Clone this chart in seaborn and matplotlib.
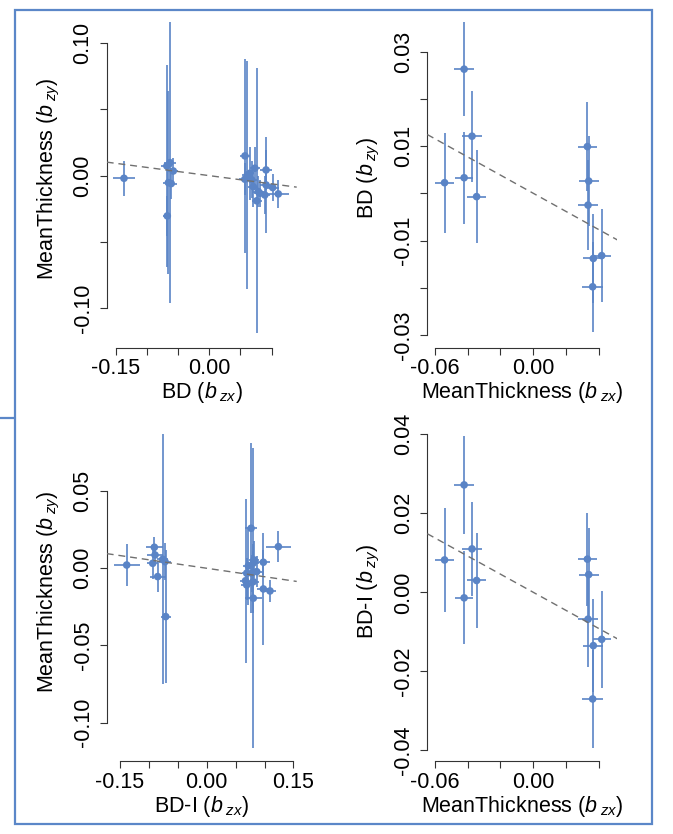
import matplotlib
matplotlib.use("Agg")
import matplotlib.pyplot as plt
from matplotlib.patches import Rectangle
from matplotlib.lines import Line2D
import pandas as pd
import seaborn as sns

# ---- BD instruments: effect on BD (x) and on MeanThickness (y) ----
bd_bx = [-0.1367, -0.0630, -0.0680, -0.0577, -0.0655, -0.0610, -0.0673,
         0.0572, 0.0610, 0.0650, 0.0730, 0.0910, 0.0570, 0.0680, 0.0705,
         0.0785, 0.0810, 0.0910, 0.1016, 0.1106, 0.0760, 0.0890]
bd_by = [-0.0020, 0.0098, 0.0073, 0.0035, -0.0053, -0.0060, -0.0304,
         0.0149, 0.0005, 0.0018, 0.0056, 0.0043, -0.0027, -0.0032, -0.0083,
         -0.0120, -0.0133, -0.0070, -0.0090, -0.0138, -0.0190, -0.0146]
bd_se_x = [0.0180, 0.0100, 0.0090, 0.0080, 0.0090, 0.0085, 0.0065,
           0.0080, 0.0085, 0.0070, 0.0080, 0.0090, 0.0100, 0.0080, 0.0080,
           0.0090, 0.0100, 0.0090, 0.0100, 0.0170, 0.0080, 0.0090]
bd_se_y = [0.0130, 0.1060, 0.0760, 0.0100, 0.0690, 0.0120, 0.0150,
           0.0730, 0.0860, 0.0200, 0.0160, 0.0150, 0.0120, 0.0140, 0.0150,
           0.0120, 0.0100, 0.0360, 0.0100, 0.0104, 0.1000, 0.0140]
bd_slope = -0.062

# ---- BD-I instruments: effect on BD-I (x) and on MeanThickness (y) ----
bdi_bx = [-0.1384, -0.0906, -0.0894, -0.0934, -0.0848, -0.0761, -0.0721, -0.0709,
          0.0768, 0.1240, 0.0980, 0.0818, 0.0806, 0.0720, 0.0865, 0.0779,
          0.0692, 0.0672, 0.0692, 0.0806, 0.0980, 0.1095, 0.0806]
bdi_by = [0.0021, 0.0136, 0.0086, 0.0032, -0.0054, 0.0058, 0.0043, -0.0313,
          0.0259, 0.0140, 0.0039, 0.0054, 0.0034, 0.0015, -0.0022, -0.0032,
          -0.0032, -0.0081, -0.0108, -0.0087, -0.0134, -0.0147, -0.0194]
bdi_se_x = [0.0225, 0.0144, 0.0140, 0.0100, 0.0136, 0.0100, 0.0100, 0.0090,
            0.0110, 0.0216, 0.0110, 0.0090, 0.0100, 0.0090, 0.0090, 0.0120,
            0.0080, 0.0100, 0.0090, 0.0100, 0.0110, 0.0100, 0.0150]
bdi_se_y = [0.0137, 0.0067, 0.0060, 0.0100, 0.0100, 0.0810, 0.0120, 0.0430,
            0.0550, 0.0100, 0.0080, 0.0120, 0.0120, 0.0250, 0.0100, 0.0120,
            0.0100, 0.0530, 0.0100, 0.0200, 0.0360, 0.0070, 0.0970]
bdi_slope = -0.0548

# ---- MeanThickness instruments: effect on MeanThickness (x) ----
mt_bx = [-0.0540, -0.0421, -0.0421, -0.0373, -0.0345,
         0.0329, 0.0337, 0.0333, 0.0365, 0.0416, 0.0361]
mt_se_x = [0.0060, 0.0062, 0.0056, 0.0058, 0.0060,
           0.0060, 0.0060, 0.0060, 0.0060, 0.0054, 0.0063]
# ... and on BD (y)
mt_bd_by = [0.00225, 0.0263, 0.0033, 0.0121, -0.0007,
            0.0099, 0.0026, -0.0025, -0.0138, -0.0132, -0.0198]
mt_bd_se_y = [0.0106, 0.0100, 0.0097, 0.0096, 0.0098,
              0.0095, 0.0095, 0.0095, 0.0095, 0.0098, 0.0095]
mt_bd_slope = -0.193
# ... and on BD-I (y)
mt_bdi_by = [0.0082, 0.0272, -0.0014, 0.0110, 0.0030,
             0.0084, 0.0045, -0.0068, -0.0135, -0.0119, -0.0270]
mt_bdi_se_y = [0.0131, 0.0125, 0.0118, 0.0119, 0.0120,
               0.0118, 0.0117, 0.0122, 0.0118, 0.0122, 0.0125]
mt_bdi_slope = -0.23

# ---- axis ticks (all ticks, and the ones that carry a label) ----
ticks_150 = [-0.15, -0.10, -0.05, 0.00, 0.05, 0.10]
ticks_150b = [-0.15, -0.10, -0.05, 0.00, 0.05, 0.10, 0.15]
ticks_mt = [-0.06, -0.04, -0.02, 0.00, 0.02, 0.04]
ticks_y1 = [-0.10, -0.05, 0.00, 0.05, 0.10]
ticks_y2 = [-0.03, -0.02, -0.01, 0.00, 0.01, 0.02, 0.03]
ticks_y3 = [-0.10, -0.05, 0.00, 0.05]
ticks_y4 = [-0.04, -0.02, 0.00, 0.02, 0.04]

BLUE = "#5A84C6"
LINE_GREY = "#707070"
FRAME_BLUE = "#5B87C8"

sns.set_theme(style="ticks")
plt.rcParams["font.family"] = ["Liberation Sans", "DejaVu Sans"]
plt.rcParams["mathtext.fontset"] = "custom"
plt.rcParams["mathtext.rm"] = "Liberation Sans"
plt.rcParams["mathtext.it"] = "Liberation Sans:italic"
plt.rcParams["mathtext.bf"] = "Liberation Sans:bold"

FS = 15.5
W, H = 673, 834
fig = plt.figure(figsize=(W / 100, H / 100), dpi=100)
fig.patch.set_facecolor("white")

# plot regions in pixels: (left, top); all share the same size
PW, PH = 190.0, 338.3
regions = [(106.7, 9.2), (427.3, 9.2), (106.7, 422.5), (427.3, 422.5)]


def fmt(v):
    s = f"{v:.2f}"
    return "0.00" if s in ("-0.00", "0.00") else s


def panel(idx, bx, by, sx, sy, slope, xlim, ylim, xticks, xshow,
          yticks, yshow, xlabel, ylabel):
    left, top = regions[idx]
    ax = fig.add_axes([left / W, 1 - (top + PH) / H, PW / W, PH / H])
    df = pd.DataFrame({"bx": bx, "by": by, "sx": sx, "sy": sy})
    ax.errorbar(df["bx"], df["by"], xerr=df["sx"], yerr=df["sy"], fmt="none",
                ecolor=BLUE, elinewidth=1.2, capsize=0, zorder=2)
    sns.scatterplot(data=df, x="bx", y="by", ax=ax, color=BLUE, s=30,
                    edgecolor="none", linewidth=0, zorder=3, legend=False)
    ax.axline((0, 0), slope=slope, color=LINE_GREY, lw=1.0,
              ls=(0, (5, 3.5)), zorder=4)
    ax.set_xlim(xlim)
    ax.set_ylim(ylim)
    ax.set_facecolor("none")
    for s in ("top", "right"):
        ax.spines[s].set_visible(False)
    for s in ("left", "bottom"):
        ax.spines[s].set_color("#333333")
        ax.spines[s].set_linewidth(0.8)
    ax.spines["bottom"].set_bounds(xticks[0], xticks[-1])
    ax.spines["left"].set_bounds(yticks[0], yticks[-1])
    ax.set_xticks(xticks)
    ax.set_xticklabels([fmt(t) if fmt(t) in xshow else "" for t in xticks])
    ax.set_yticks(yticks)
    ax.set_yticklabels([fmt(t) if fmt(t) in yshow else "" for t in yticks])
    ax.tick_params(axis="both", direction="out", length=5, width=0.8,
                   color="#333333", labelsize=FS, labelcolor="black")
    ax.tick_params(axis="x", pad=2.8)
    ax.tick_params(axis="y", pad=4.5)
    for lab in ax.get_yticklabels():
        lab.set_rotation(90)
        lab.set_va("center")
        lab.set_ha("right")
    ax.set_xlabel(xlabel, fontsize=FS, color="black")
    ax.set_ylabel(ylabel, fontsize=FS, color="black")
    ax.xaxis.label.set_va("baseline")
    ax.yaxis.label.set_va("baseline")
    ax.xaxis.set_label_coords(0.5, -0.150)
    ax.yaxis.set_label_coords(-0.283, 0.5)
    return ax


panel(0, bd_bx, bd_by, bd_se_x, bd_se_y, bd_slope,
      (-0.1644, 0.1401), (-0.1297, 0.1256),
      ticks_150, {"-0.15", "0.00"}, ticks_y1, {"-0.10", "0.00", "0.10"},
      r"BD ($b_{\;zx}$)", r"MeanThickness ($b_{\;zy}$)")
panel(1, mt_bx, mt_bd_by, mt_se_x, mt_bd_se_y, mt_bd_slope,
      (-0.0645, 0.0511), (-0.03266, 0.0390),
      ticks_mt, {"-0.06", "0.00"}, ticks_y2, {"-0.03", "-0.01", "0.01", "0.03"},
      r"MeanThickness ($b_{\;zx}$)", r"BD ($b_{\;zy}$)")
panel(2, bdi_bx, bdi_by, bdi_se_x, bdi_se_y, bdi_slope,
      (-0.173, 0.1557), (-0.1247, 0.0944),
      ticks_150b, {"-0.15", "0.00", "0.15"}, ticks_y3,
      {"-0.10", "-0.05", "0.00", "0.05"},
      r"BD-I ($b_{\;zx}$)", r"MeanThickness ($b_{\;zy}$)")
panel(3, mt_bx, mt_bdi_by, mt_se_x, mt_bdi_se_y, mt_bdi_slope,
      (-0.0645, 0.0511), (-0.04266, 0.0430),
      ticks_mt, {"-0.06", "0.00"}, ticks_y4,
      {"-0.04", "-0.02", "0.00", "0.02", "0.04"},
      r"MeanThickness ($b_{\;zx}$)", r"BD-I ($b_{\;zy}$)")

# surrounding frame and the short connector on its left edge
fig.add_artist(Rectangle((15 / W, 1 - 823.5 / H), (652 - 15) / W, (823.5 - 10) / H,
                         transform=fig.transFigure, fill=False,
                         edgecolor=FRAME_BLUE, linewidth=1.6, zorder=10))
fig.add_artist(Line2D([0, 15 / W], [1 - 417.7 / H, 1 - 417.7 / H],
                      transform=fig.transFigure, color=FRAME_BLUE,
                      linewidth=1.6, zorder=10))

fig.savefig("out.png", dpi=100, facecolor="white")
